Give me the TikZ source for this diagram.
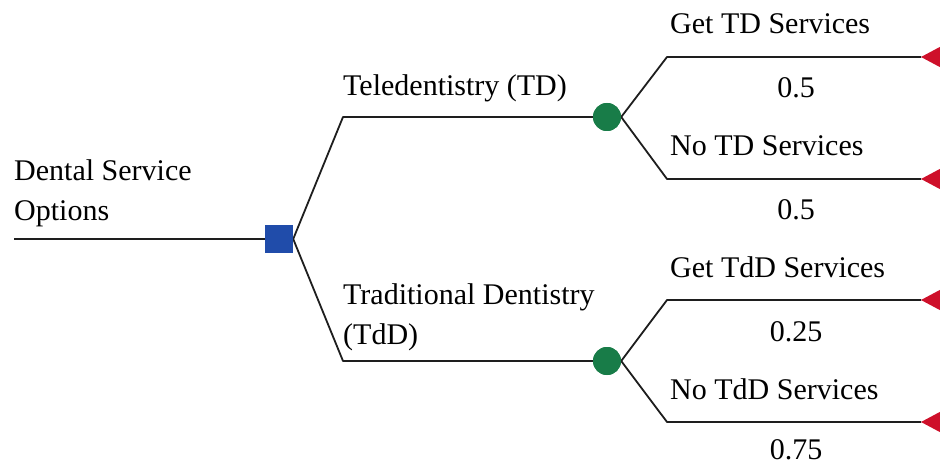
\documentclass[tikz,border=0pt]{standalone}
\usepackage{fontspec}
\setmainfont{Liberation Serif}
\definecolor{decblue}{RGB}{32,76,170}
\definecolor{chgreen}{RGB}{24,124,72}
\definecolor{endred}{RGB}{206,16,42}
\definecolor{linegray}{RGB}{30,30,30}
\begin{document}
\begin{tikzpicture}[x=1pt,y=-1pt,
  conn/.style={draw=linegray,line width=1.8pt,line join=round},
  decnode/.style={rectangle,fill=decblue,minimum size=28pt,inner sep=0pt},
  chnode/.style={circle,fill=chgreen,minimum size=28pt,inner sep=0pt},
  endtri/.style={fill=endred},
  lbl/.style={font=\fontsize{30}{40}\selectfont,inner sep=0pt,anchor=base west,align=left},
  prob/.style={font=\fontsize{30}{40}\selectfont,inner sep=0pt,anchor=base}]
\useasboundingbox (0,0) rectangle (940,465);
% nodes
\coordinate (root) at (14,239);
\node[decnode] (dec) at (279,239) {};
\coordinate (a1) at (343,117);
\coordinate (a2) at (343,361);
\node[chnode] (ch1) at (607,117) {};
\node[chnode] (ch2) at (607,361) {};
\coordinate (b1) at (667,57);
\coordinate (b2) at (667,179);
\coordinate (b3) at (667,300);
\coordinate (b4) at (667,422);
\coordinate (t1) at (921,57);
\coordinate (t2) at (921,179);
\coordinate (t3) at (921,300);
\coordinate (t4) at (921,422);
% connectors
\draw[conn] (root) -- (dec.west);
\draw[conn] (dec.east) -- (a1) -- (ch1.west);
\draw[conn] (dec.east) -- (a2) -- (ch2.west);
\draw[conn] (ch1.east) -- (b1) -- (t1);
\draw[conn] (ch1.east) -- (b2) -- (t2);
\draw[conn] (ch2.east) -- (b3) -- (t3);
\draw[conn] (ch2.east) -- (b4) -- (t4);
% end triangles
\foreach \t in {t1,t2,t3,t4}{
  \fill[endtri] (\t) -- ++(30,-16) -- ++(0,32) -- cycle;
}
% redraw nodes on top
\node[decnode] at (dec) {};
\node[chnode] at (ch1) {};
\node[chnode] at (ch2) {};
% labels (base anchor of a multi-line node is the last line's baseline)
\node[lbl] (l0) at (14,221) {Dental Service\\Options};
\node[lbl] (l1) at (343,96) {Teledentistry (TD)};
\node[lbl] (l2) at (343,344) {Traditional Dentistry\\(TdD)};
\node[lbl] (l3) at (670,34) {Get TD Services};
\node[prob] (p3) at (796,98) {0.5};
\node[lbl] (l4) at (670,156) {No TD Services};
\node[prob] (p4) at (796,220) {0.5};
\node[lbl] (l5) at (670,277) {Get TdD Services};
\node[prob] (p5) at (796,341) {0.25};
\node[lbl] (l6) at (670,399) {No TdD Services};
\node[prob] (p6) at (796,459) {0.75};
\end{tikzpicture}
\end{document}
